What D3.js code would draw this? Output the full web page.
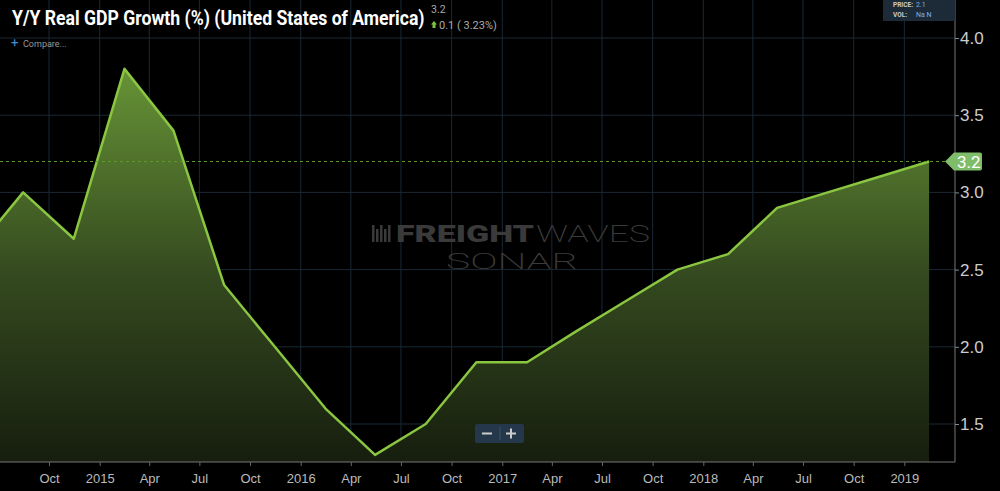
<!DOCTYPE html>
<html>
<head>
<meta charset="utf-8">
<script src="https://cdn.jsdelivr.net/npm/d3@7"></script>
<style>
  body { margin: 0; background: #000; }
  svg { display: block; font-family: Roboto, "Noto Sans", sans-serif; }
</style>
</head>
<body>
<svg id="main_svg" width="1000" height="491"></svg>
<script>
// quarterly y/y real GDP growth, plotted mid-quarter
const dates = ["2014-05-15", "2014-08-15", "2014-11-15", "2015-02-15", "2015-05-15", "2015-08-15",
  "2015-11-15", "2016-02-15", "2016-05-15", "2016-08-15", "2016-11-15", "2017-02-15",
  "2017-05-15", "2017-08-15", "2017-11-15", "2018-02-15", "2018-05-15", "2018-08-15",
  "2018-11-15", "2019-02-15"];
const growth = [2.6, 3.0, 2.7, 3.8, 3.4, 2.4, 2.0, 1.6, 1.3, 1.5, 1.9, 1.9, 2.1, 2.3, 2.5, 2.6, 2.9, 3.0, 3.1, 3.2];
const yTicks = [1.5, 2.0, 2.5, 3.0, 3.5, 4.0];
const lastValue = 3.2;

const parse = d3.timeParse("%Y-%m-%d");
const data = dates.map((d, i) => ({date: parse(d), value: growth[i]}));

const width = 1000, height = 491;
const plotRight = 955, plotBottom = 462;

const x = d3.scaleTime().domain([parse("2014-07-04"), parse("2019-04-03")]).range([0, plotRight]);
const y = d3.scaleLinear().domain([1.5, 4.0]).range([424, 38]);

const svg = d3.select("#main_svg");
svg.append("rect").attr("width", width).attr("height", height).attr("fill", "#000");

const defs = svg.append("defs");
const grad = defs.append("linearGradient").attr("id", "fillGrad")
  .attr("gradientUnits", "userSpaceOnUse").attr("x1", 0).attr("x2", 0).attr("y1", 50).attr("y2", plotBottom);
grad.append("stop").attr("offset", "0%").attr("stop-color", "#6b9a38");
grad.append("stop").attr("offset", "55%").attr("stop-color", "#34491f");
grad.append("stop").attr("offset", "100%").attr("stop-color", "#161e0e");
defs.append("clipPath").attr("id", "plotClip").append("rect")
  .attr("x", 0).attr("y", 0).attr("width", plotRight).attr("height", plotBottom);

// grid (quarter ticks, up to the last point)
const lastDate = data[data.length - 1].date;
const xTickVals = x.ticks(d3.timeMonth.every(3)).filter(d => d <= lastDate);
const grid = svg.append("g");
grid.selectAll(".vg").data(xTickVals).enter().append("line")
  .attr("x1", d => x(d)).attr("x2", d => x(d)).attr("y1", 0).attr("y2", plotBottom)
  .attr("stroke", "#1a2835").attr("stroke-width", 1);
grid.selectAll(".hg").data(yTicks).enter().append("line")
  .attr("x1", 0).attr("x2", plotRight).attr("y1", d => y(d)).attr("y2", d => y(d))
  .attr("stroke", "#1a2835").attr("stroke-width", 1);

// squeeze a text horizontally to a given width (keeps the bbox honest)
function fitWidth(sel, x0, y0, w) {
  const len = sel.node().getComputedTextLength();
  sel.attr("transform", `translate(${x0},${y0}) scale(${w / len},1)`);
  return sel;
}

// watermark
const wm = svg.append("g").attr("fill", "#3a3a3a");
const icon = wm.append("g").attr("transform", "translate(372,225)");
[0, 4, 8, 12, 16].forEach((dx, i) => {
  icon.append("rect").attr("x", dx).attr("y", i % 2 ? 4 : 0).attr("width", 2.5).attr("height", i % 2 ? 13 : 17);
});
fitWidth(wm.append("text").attr("font-size", 24).attr("font-weight", 900).text("FREIGHT"), 396, 242, 138);
fitWidth(wm.append("text").attr("font-size", 24).attr("font-weight", 200).text("WAVES"), 536, 242, 114);
fitWidth(wm.append("text").attr("font-size", 22).attr("font-weight", 200).text("SONAR"), 446, 269, 132);

// area + line
const plot = svg.append("g").attr("clip-path", "url(#plotClip)");
const area = d3.area().x(d => x(d.date)).y0(plotBottom).y1(d => y(d.value));
const line = d3.line().x(d => x(d.date)).y(d => y(d.value));
plot.append("path").datum(data).attr("d", area).attr("fill", "url(#fillGrad)");
plot.append("path").datum(data).attr("d", line).attr("fill", "none")
  .attr("stroke", "#8ac640").attr("stroke-width", 2.5).attr("stroke-linejoin", "round");

// last value dashed line
svg.append("line").attr("x1", 0).attr("x2", 946).attr("y1", y(lastValue)).attr("y2", y(lastValue))
  .attr("stroke", "#5c9a2c").attr("stroke-width", 1).attr("stroke-dasharray", "3,3");

// axes
const xAxis = svg.append("g").attr("transform", "translate(0," + plotBottom + ")")
  .call(d3.axisBottom(x).tickValues(xTickVals).tickSize(4).tickPadding(8)
    .tickFormat(d => d.getMonth() === 0 ? d3.timeFormat("%Y")(d) : d3.timeFormat("%b")(d)));
xAxis.select(".domain").attr("d", "M0,0H" + plotRight).attr("stroke", "#777");
xAxis.selectAll("line").attr("stroke", "#666");
xAxis.selectAll("text").attr("fill", "#bbb").attr("font-size", 13);

const yAxis = svg.append("g").attr("transform", "translate(" + plotRight + ",0)")
  .call(d3.axisRight(y).tickValues(yTicks).tickSize(4).tickPadding(1).tickFormat(d3.format(".1f")));
yAxis.select(".domain").attr("d", "M0,0V" + plotBottom).attr("stroke", "#777");
yAxis.selectAll("line").attr("stroke", "#888");
yAxis.selectAll("text").attr("fill", "#ccc").attr("font-size", 17);

// last value tag
const ty = y(lastValue);
svg.append("path")
  .attr("d", `M945,${ty} L954,${ty - 9} H980 Q982,${ty - 9} 982,${ty - 7} V${ty + 7} Q982,${ty + 9} 980,${ty + 9} H954 Z`)
  .attr("fill", "#80bd6a");
svg.append("text").attr("x", 957).attr("y", ty + 6).attr("fill", "#fff").attr("font-size", 17).text(lastValue.toFixed(1));

// title
fitWidth(svg.append("text").attr("fill", "#fff").attr("font-size", 21).attr("font-weight", 700)
  .text("Y/Y Real GDP Growth (%) (United States of America)"), 12, 25, 413);
svg.append("text").attr("x", 431).attr("y", 13).attr("fill", "#aaa").attr("font-size", 10.5).text("3.2");
svg.append("path").attr("d", "M434,21 L437,24.5 H435.5 V28 H432.5 V24.5 H431 Z").attr("fill", "#7dc242");
svg.append("text").attr("x", 439).attr("y", 29).attr("fill", "#aaa").attr("font-size", 11).text("0.1 ( 3.23%)");
svg.append("text").attr("x", 11).attr("y", 47).attr("fill", "#4a8fd6").attr("font-size", 13).text("+");
svg.append("text").attr("x", 23).attr("y", 47).attr("fill", "#999").attr("font-size", 9).text("Compare...");

// price box
svg.append("rect").attr("x", 883).attr("y", 0).attr("width", 72).attr("height", 21).attr("fill", "#1d2b38");
svg.append("text").attr("x", 893).attr("y", 7).attr("fill", "#ccc").attr("font-size", 6.5).attr("font-weight", 700).text("PRICE:");
svg.append("text").attr("x", 916).attr("y", 7).attr("fill", "#7fb2e5").attr("font-size", 7).text("2.1");
svg.append("text").attr("x", 893).attr("y", 17).attr("fill", "#ccc").attr("font-size", 6.5).attr("font-weight", 700).text("VOL:");
svg.append("text").attr("x", 916).attr("y", 17).attr("fill", "#7fb2e5").attr("font-size", 7).text("Na N");

// zoom buttons
svg.append("rect").attr("x", 475).attr("y", 424).attr("width", 49).attr("height", 19).attr("rx", 2).attr("fill", "#25384b");
svg.append("line").attr("x1", 500).attr("x2", 500).attr("y1", 427).attr("y2", 440).attr("stroke", "#3d5266");
svg.append("line").attr("x1", 482).attr("x2", 492).attr("y1", 433.5).attr("y2", 433.5).attr("stroke", "#ccc").attr("stroke-width", 2);
svg.append("line").attr("x1", 506).attr("x2", 516).attr("y1", 433.5).attr("y2", 433.5).attr("stroke", "#ccc").attr("stroke-width", 2);
svg.append("line").attr("x1", 511).attr("x2", 511).attr("y1", 428.5).attr("y2", 438.5).attr("stroke", "#ccc").attr("stroke-width", 2);
</script>
</body>
</html>
